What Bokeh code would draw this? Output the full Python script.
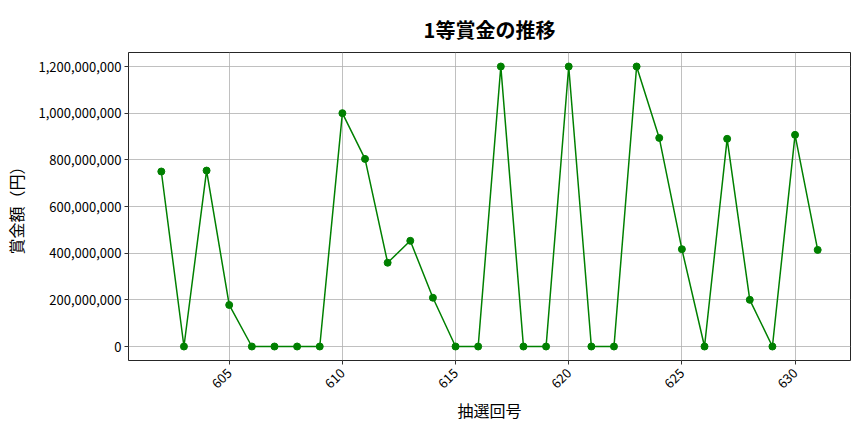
import math
from bokeh.plotting import figure
from bokeh.models import NumeralTickFormatter, FixedTicker, Range1d
from bokeh.embed import file_html
from bokeh.resources import INLINE

draws = list(range(602, 632))
prizes = [750e6, 0, 754e6, 178e6, 0, 0, 0, 0, 1000e6, 804e6,
          359e6, 453e6, 209e6, 0, 0, 1200e6, 0, 0, 1200e6, 0,
          0, 1200e6, 894e6, 417e6, 0, 890e6, 200e6, 0, 907e6, 414e6]
x_ticks = [605, 610, 615, 620, 625, 630]
y_ticks = [0, 200e6, 400e6, 600e6, 800e6, 1000e6, 1200e6]

title_text = "1等賞金の推移"
x_label = "抽選回号"
y_label = "賞金額（円）"

FONT = "Noto Sans CJK JP"

p = figure(output_backend="svg", toolbar_location=None,
           x_range=Range1d(600.55, 632.45), y_range=Range1d(-60e6, 1260e6),
           min_border_left=128, min_border_right=6, min_border_top=52, min_border_bottom=60,
           title=title_text)
p.frame_width = 722
p.frame_height = 308

p.title.align = "center"
p.title.text_font = FONT
p.title.text_font_size = "20px"
p.title.text_font_style = "bold"
p.title.text_color = "#000000"
p.title.offset = 0
p.title.standoff = 18

p.line(draws, prizes, line_color="#008000", line_width=1.5)
p.scatter(draws, prizes, size=7, fill_color="#008000", line_color="#008000")

p.outline_line_color = "#000000"
p.outline_line_width = 1
p.outline_line_alpha = 0.85

for ax in (p.xaxis[0], p.yaxis[0]):
    ax.axis_line_color = None
    ax.major_tick_in = 0
    ax.major_tick_out = 4
    ax.minor_tick_line_color = None
    ax.major_tick_line_color = "#333333"
    ax.major_label_text_font = FONT
    ax.major_label_text_font_size = "13px"
    ax.major_label_text_color = "#000000"
    ax.axis_label_text_font = FONT
    ax.axis_label_text_font_size = "16px"
    ax.axis_label_text_font_style = "normal"
    ax.axis_label_text_color = "#000000"

p.xaxis.ticker = FixedTicker(ticks=x_ticks)
p.yaxis.ticker = FixedTicker(ticks=y_ticks)
p.yaxis.formatter = NumeralTickFormatter(format="0,0")
p.xaxis.major_label_orientation = math.pi / 4
p.xaxis.major_label_standoff = 6
p.xaxis.axis_label_standoff = 2
p.yaxis.major_label_standoff = 3
p.yaxis.axis_label_standoff = 8
p.xaxis.axis_label = x_label
p.yaxis.axis_label = y_label

p.grid.grid_line_color = "#b0b0b0"
p.grid.grid_line_width = 0.8

p.background_fill_color = "white"
p.border_fill_color = "white"

open("out.html", "w").write(file_html(p, INLINE))
